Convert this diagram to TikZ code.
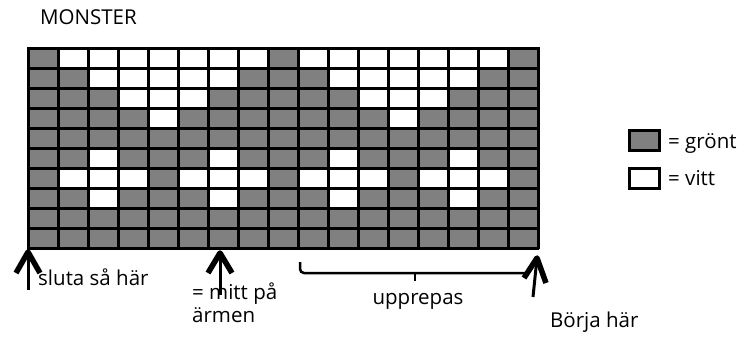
\documentclass[tikz,border=0pt]{standalone}
\usepackage{fontspec}
\setmainfont{Open Sans}
\usepackage{tikz}

\begin{document}
\begin{tikzpicture}[x=1pt,y=-1pt,
  txt/.style={anchor=base west,inner sep=0pt,font=\fontsize{20.5}{23}\selectfont},
  shaft/.style={line width=3pt},
  head/.style={line width=5.5pt,line join=round}]
\useasboundingbox (0,0) rectangle (754,351);
% grid 17 x 10
\fill [gray] (28,48) rectangle (538,248);
\foreach \o in {0,8} {
  \foreach \c/\r in {2/1,3/1,4/1,5/1,6/1,7/1,8/1,3/2,4/2,5/2,6/2,7/2,4/3,5/3,6/3,5/4,
                     3/6,7/6,2/7,3/7,4/7,6/7,7/7,8/7,3/8,7/8}
    \fill [white] ({28+(\c+\o-1)*30},{48+(\r-1)*20}) rectangle +(30,20);
}
\foreach \i in {0,...,17}
  \draw [line width=3pt] ({28+\i*30},47) -- ({28+\i*30},249);
\foreach \j in {0,...,10}
  \draw [line width=3pt] (27,{48+\j*20}) -- (539,{48+\j*20});
% legend
\draw [line width=3pt,fill=gray] (629,130) rectangle (659,150);
\draw [line width=3pt] (629,168) rectangle (659,188);
\node (gr) [txt] at (668,148) {= grönt};
\node (vi) [txt] at (668,185) {= vitt};
\node (title) [txt] at (40,24) {MONSTER};
% arrows
\coordinate (endtip) at (28,252);
\coordinate (midtip) at (220,253);
\coordinate (starttip) at (537,258);
\draw [shaft] (endtip) -- (28,290);
\draw [head] (16,273) -- (endtip) -- (40,273);
\draw [shaft] (midtip) -- (220,295);
\draw [head] (208,273) -- (midtip) -- (232,273);
\draw [shaft] (starttip) -- (533,297);
\draw [head] (524,278) -- (starttip) -- (546,283);
% brace
\draw [line width=2.5pt,rounded corners=4pt] (300,262) -- (300,273) -- (528,273);
\draw [line width=2.5pt] (415,273) -- (415,281);
\node (slut) [txt] at (38,285) {sluta så här};
\node (mitt) [txt,align=left] at (192,322) {= mitt på\\ärmen};
\node (upp) [anchor=base,inner sep=0pt,font=\fontsize{20.5}{23}\selectfont] at (418,304) {upprepas};
\node (borja) [txt] at (550,327) {Börja här};
\end{tikzpicture}
\end{document}
